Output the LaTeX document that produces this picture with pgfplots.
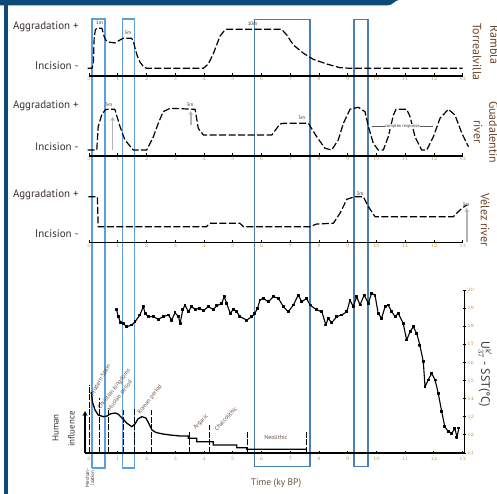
\documentclass[border=0pt]{standalone}
\usepackage{pgfplots}
\pgfplotsset{compat=1.18}
\usepackage{fontspec}
\setmainfont{PT Sans}
\usetikzlibrary{arrows.meta}
\definecolor{hdr}{HTML}{0E4A78}
\definecolor{boxA}{HTML}{5A9FDC}
\definecolor{boxB}{HTML}{4A7FB0}
\definecolor{txt}{HTML}{3A3030}
\definecolor{lab}{HTML}{6A4428}
\definecolor{tck}{HTML}{D08A30}
\definecolor{per}{HTML}{6A5040}
\pgfplotsset{
 panel/.style={scale only axis, width=373.7bp, xmin=0, xmax=13, ymin=0,
   axis x line=bottom, axis y line=none, clip=false,
   x axis line style={-, line width=1.2bp},
   xtick={0,...,13}, tick align=inside, major tick length=3bp,
   xtick style={line width=0.9bp, black},
   xticklabel style={font=\fontsize{5}{5}\selectfont, text=tck, inner sep=1.5bp}},
 curve/.style={black, line width=1.2bp, dash pattern=on 7bp off 2.5bp, no marks, line join=round},
 over/.style={scale only axis, at={(89bp,0bp)}, anchor=south west, width=373.7bp, height=494bp,
   xmin=0, xmax=13, ymin=0, ymax=494, hide axis, clip=false},
}
\tikzset{
 lvl/.style={anchor=east, font=\fontsize{11}{11}\selectfont, text=txt},
 mlab/.style={font=\fontsize{5}{5}\selectfont, text=txt, inner sep=0.5bp},
 garrow/.style={gray!60, line width=1.6bp, -{Stealth[length=4bp,width=4.5bp]}},
 plab/.style={anchor=base west, font=\fontsize{6}{6}\selectfont, text=per, inner sep=0.5bp},
}
\begin{document}
\begin{tikzpicture}[x=1bp,y=1bp]
\useasboundingbox (0,0) rectangle (497,494);
\fill[white] (0,0) rectangle (497,494);
% frame decorations
\fill[hdr] (0,494) -- (399,494) .. controls (395,494) and (393,488.5) .. (387,488.5) -- (0,488.5) -- cycle;
\fill[hdr] (3.5,0) rectangle (7.5,494);

% ---------- highlight boxes ----------
\begin{axis}[over]
\addplot[boxA, line width=1.2bp, line join=miter] coordinates {(0.104,26) (0.557,26) (0.557,475) (0.104,475) (0.104,26)};
\addplot[boxA, line width=1.2bp, line join=miter] coordinates {(1.158,26) (1.576,26) (1.576,475) (1.158,475) (1.158,26)};
\addplot[boxB, line width=1.2bp, line join=miter] coordinates {(5.765,27.3) (7.688,27.3) (7.688,474.7) (5.765,474.7) (5.765,27.3)};
\addplot[boxB, line width=1.2bp, line join=miter] coordinates {(9.219,27.3) (9.706,27.3) (9.706,474.7) (9.219,474.7) (9.219,27.3)};
\end{axis}

% ---------- Panel 1: Rambla Torrealvilla ----------
\begin{axis}[panel, at={(89bp,418bp)}, anchor=south west, height=57bp, ymax=57]
\addplot[curve] coordinates {(-0.05,7.7) (0.10,7.7) (0.15,12) (0.18,38) (0.22,46) (0.27,47.7) (0.45,47.7) (0.52,40) (0.58,36) (0.67,34) (0.9,33) (1.02,35) (1.18,37.7) (1.48,37.7) (1.55,34) (1.60,28) (1.68,20) (1.77,14) (1.9,9) (2.01,7.7) (3.98,7.7) (4.15,12) (4.33,22.7) (4.56,40) (4.70,45) (4.79,46.7) (6.70,46.7) (6.88,41) (7.11,31) (7.46,22.7) (7.80,16.7) (8.27,12) (8.73,8.3) (9.08,7.7) (13.0,7.7)};
\node[lvl] at (axis cs:-0.24,49) {Aggradation +};
\node[lvl] at (axis cs:-0.24,10) {Incision -};
\end{axis}

% ---------- Panel 2: Guadalentin river ----------
\begin{axis}[panel, at={(89bp,338bp)}, anchor=south west, height=60bp, ymax=60]
\addplot[curve] coordinates {(-0.05,6) (0.27,6) (0.32,29.3) (0.44,41) (0.56,46) (0.63,46.7) (0.90,46.7) (1.08,29.3) (1.25,16) (1.54,6) (2.01,6) (2.24,19.3) (2.41,32.7) (2.58,44.3) (2.82,47.7) (3.69,46.7) (3.80,27.7) (3.98,21) (6.36,21) (6.64,32) (6.78,32.7) (7.63,32.7) (7.92,19.3) (8.21,7.7) (8.44,6) (8.67,16) (8.85,32.7) (9.08,46.7) (9.37,48.7) (9.60,44.3) (9.72,29.3) (9.89,12.7) (10.06,6) (10.24,6) (10.41,19.3) (10.59,41) (10.68,46.7) (11.05,46.7) (11.17,39.3) (11.34,19.3) (11.57,6) (11.75,6) (11.98,19.3) (12.21,37.7) (12.50,46.7) (12.73,41) (12.97,22.7) (13.20,9.3)};
\node[lvl] at (axis cs:-0.24,50) {Aggradation +};
\node[lvl] at (axis cs:-0.24,9) {Incision -};
\end{axis}

% ---------- Panel 3: Velez river ----------
\begin{axis}[panel, at={(89bp,251.3bp)}, anchor=south west, height=55bp, ymax=55]
\addplot[curve] coordinates {(-0.02,46) (0.29,46) (0.32,16) (4.09,16) (4.21,19.4) (5.25,19.4) (5.37,16) (7.69,16) (7.92,18.7) (8.50,19.4) (8.73,29.4) (8.97,43.4) (9.25,46) (9.54,46) (9.72,36) (9.95,26) (12.67,26) (12.97,34.4) (13.14,37.7)};
\node[lvl] at (axis cs:-0.24,47.7) {Aggradation +};
\node[lvl] at (axis cs:-0.24,8.7) {Incision -};
\end{axis}

% ---------- Panel 4: SST ----------
\begin{axis}[scale only axis, at={(85bp,41bp)}, anchor=south west, width=379.1bp, height=163bp,
  xmin=-0.14, xmax=13.05, ymin=11, ymax=20, clip=false,
  axis x line=bottom, axis y line=right,
  axis line style={-, line width=1.2bp},
  xtick={0,...,13}, ytick={11,...,20}, tick align=center, major tick length=3bp,
  tick style={line width=0.9bp, black},
  xticklabel style={font=\fontsize{5}{5}\selectfont, text=tck, inner sep=1.5bp, yshift=-1.5bp},
  yticklabel style={font=\fontsize{5}{5}\selectfont, text=tck, inner sep=1.5bp}]
\addplot[black, line width=1.1bp, sharp plot, mark=square*, mark size=0.9bp, line join=round] coordinates {
(0.96,18.90) (1.02,18.53) (1.10,18.19) (1.19,18.16) (1.31,17.97) (1.49,18.07) (1.60,18.25) (1.77,18.62) (1.89,19.08) (1.95,18.71) (2.06,18.53) (2.24,18.53) (2.41,18.38) (2.58,18.53) (2.76,18.62) (2.88,18.34) (2.99,18.75) (3.11,18.53) (3.17,18.16) (3.26,18.90) (3.34,19.17) (3.45,18.80) (3.57,19.08) (3.69,18.93) (3.84,18.99) (3.98,18.86) (4.15,19.08) (4.32,18.93) (4.44,19.12) (4.62,19.27) (4.70,19.63) (4.79,19.27) (4.91,18.71) (5.02,18.93) (5.14,18.80) (5.25,18.53) (5.49,18.34) (5.66,18.53) (5.77,18.71) (5.86,18.99) (5.95,19.45) (6.06,19.54) (6.24,19.35) (6.41,19.63) (6.59,19.54) (6.76,19.08) (6.93,18.80) (7.11,19.17) (7.28,19.72) (7.40,19.35) (7.57,19.54) (7.69,19.17) (7.92,18.90) (8.10,18.80) (8.24,18.07) (8.32,18.44) (8.44,18.19) (8.62,18.53) (8.79,18.62) (8.97,18.80) (9.08,19.45) (9.19,19.08) (9.31,19.63) (9.43,19.17) (9.57,19.72) (9.72,19.27) (9.83,19.82) (9.95,19.72) (10.06,18.71) (10.18,18.44) (10.30,19.08) (10.41,19.17) (10.53,18.80) (10.65,18.53) (10.76,18.71) (10.93,18.16) (11.05,17.24) (11.17,17.70) (11.28,17.97) (11.40,17.61) (11.51,16.96) (11.63,16.04) (11.69,14.66) (11.80,15.03) (11.92,15.40) (12.04,15.03) (12.15,14.30) (12.27,13.28) (12.38,12.45) (12.50,12.18) (12.62,12.09) (12.73,12.36) (12.80,11.88) (12.87,12.38)};
\end{axis}

% ---------- Overlay: arrows, human influence, labels ----------
\begin{axis}[over]
% grey arrows
\addplot[garrow] coordinates {(0.824,344) (0.824,377)};
\addplot[garrow] coordinates {(3.538,369) (3.538,383)};
\addplot[garrow] coordinates {(13.14,252.3) (13.14,286)};
% complex response
\addplot[black!65, line width=0.8bp] coordinates {(9.835,367.3) (11.957,367.3)};
\node[font=\fontsize{4.5}{4.5}\selectfont, text=txt, fill=white, inner sep=0.3bp] at (axis cs:10.9,367.3) {complex response};
% thickness labels
\node[mlab] at (axis cs:0.365,471) {1m};
\node[mlab] at (axis cs:1.346,460.7) {3m};
\node[mlab] at (axis cs:5.688,470.7) {10m};
\node[mlab] at (axis cs:0.685,389) {3m};
\node[mlab] at (axis cs:3.514,389) {3m};
\node[mlab] at (axis cs:7.40,376) {3m};
\node[mlab] at (axis cs:9.428,300.7) {3m};
\node[mlab] at (axis cs:13.115,289) {3m};
% human influence arrow
\addplot[black, line width=1.5bp, -{Stealth[length=5bp,width=5bp]}] coordinates {(-0.139,41) (-0.139,83)};
% human influence curve
\addplot[black, line width=1.3bp] coordinates {(0.08,102) (0.12,92) (0.21,84) (0.32,79) (0.50,77.3) (0.63,78) (0.73,80) (0.90,81) (1.01,80) (1.15,76) (1.31,71) (1.49,67.3) (1.60,70) (1.70,75) (1.84,77.3) (1.98,76) (2.09,70) (2.19,64) (2.33,61.5) (2.57,60) (2.82,59) (3.17,58) (3.45,58) (3.45,55.7) (3.75,55.7) (3.75,52.3) (4.32,52.3) (4.32,49) (5.14,49) (5.14,46.3) (5.49,46.3) (5.49,44.7) (7.57,44.7)};
% period boundaries
\addplot[black, line width=1bp, dash pattern=on 6bp off 1.5bp] coordinates {(0,41) (0,109)};
\addplot[black, line width=1bp, dash pattern=on 6bp off 1.5bp] coordinates {(0.35,41) (0.35,96)};
\addplot[black, line width=1bp, dash pattern=on 6bp off 1.5bp] coordinates {(0.67,41) (0.67,84)};
\addplot[black, line width=1bp, dash pattern=on 6bp off 1.5bp] coordinates {(1.19,41) (1.19,84)};
\addplot[black, line width=1bp, dash pattern=on 6bp off 1.5bp] coordinates {(1.60,41) (1.60,86)};
\addplot[black, line width=1bp, dash pattern=on 6bp off 1.5bp] coordinates {(2.18,41) (2.18,84)};
\addplot[black, line width=1bp, dash pattern=on 6bp off 1.5bp] coordinates {(3.49,41) (3.49,62.3)};
\addplot[black, line width=1bp, dash pattern=on 6bp off 1.5bp] coordinates {(4.19,41) (4.19,69)};
\addplot[black, line width=1bp, dash pattern=on 6bp off 1.5bp] coordinates {(5.51,41) (5.51,62.3)};
\addplot[black, line width=1bp, dash pattern=on 6bp off 1.5bp] coordinates {(7.57,41) (7.57,62.3)};
% period labels
\node[plab, rotate=61] at (axis cs:0.15,97.3) {Modern Spain};
\node[plab, rotate=52] at (axis cs:0.38,84) {Christian kingdoms};
\node[plab, rotate=53] at (axis cs:0.73,82.3) {Muslim period};
\node[plab, rotate=52] at (axis cs:1.77,79) {Roman period};
\node[plab, rotate=45] at (axis cs:3.69,64) {Argaric};
\node[plab, rotate=47] at (axis cs:4.44,62.3) {Chalcolithic};
\node[font=\fontsize{6}{6}\selectfont, text=per] at (axis cs:6.5,57) {Neolithic};
\end{axis}

% ---------- texts ----------
\node[rotate=-90, font=\fontsize{12}{12}\selectfont, text=lab] at (494.5,449) {Rambla};
\node[rotate=-90, font=\fontsize{12}{12}\selectfont, text=lab] at (477,442) {Torrealvilla};
\node[rotate=-90, font=\fontsize{12}{12}\selectfont, text=lab] at (493.5,362) {Guadalentín};
\node[rotate=-90, font=\fontsize{12}{12}\selectfont, text=lab] at (478,362) {river};
\node[rotate=-90, font=\fontsize{12}{12}\selectfont, text=lab] at (485,274) {Vélez river};
\node[rotate=-90, font=\fontsize{12}{12}\selectfont, text=txt] at (485,120) {U$^{\mathrm{k}'}_{37}$ - SST(°C)};
\node[font=\fontsize{9.5}{9.5}\selectfont, text=per] at (276,11) {Time (ky BP)};
\node[rotate=90, font=\fontsize{9}{9}\selectfont, text=txt] at (55.5,66) {Human};
\node[rotate=90, font=\fontsize{9}{9}\selectfont, text=txt] at (71.5,65) {influence};
\node[rotate=90, font=\fontsize{5}{5}\selectfont, text=txt, align=center] at (90,16) {Mechan-\\ization};
\end{tikzpicture}
\end{document}
